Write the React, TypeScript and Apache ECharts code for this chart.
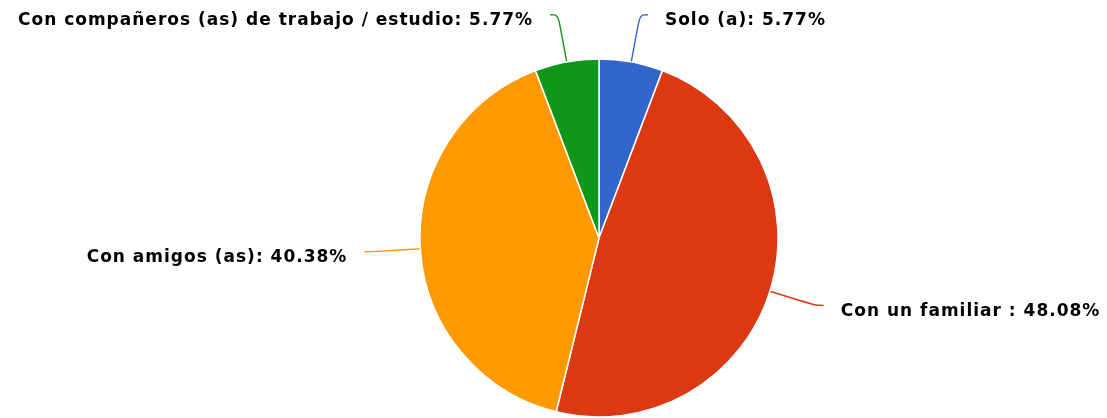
import React, { useEffect, useRef } from "react";
import * as echarts from "echarts";

const categories = [
  "Solo (a)",
  "Con un familiar ",
  "Con amigos (as)",
  "Con compañeros (as) de trabajo / estudio",
];
const values = [3, 25, 21, 3];
const colors = ["#3366cc", "#dc3912", "#ff9900", "#109618"];

export default function App() {
  const ref = useRef<HTMLDivElement>(null);
  useEffect(() => {
    if (!ref.current) return;
    const chart = echarts.init(ref.current, undefined, { renderer: "svg" });
    chart.setOption({
      animation: false,
      color: colors,
      series: [
        {
          type: "pie",
          center: [599, 238],
          radius: 179,
          startAngle: 90,
          clockwise: true,
          data: categories.map((name, i) => ({ name, value: values[i] })),
          itemStyle: { borderColor: "#ffffff", borderWidth: 1.5 },
          label: {
            show: true,
            formatter: (p: any) => `${p.name}: ${p.percent.toFixed(2)}%`,
            fontFamily: "DejaVu Sans",
            fontWeight: "bold",
            fontSize: 17,
            color: "#000000",
            distanceToLabelLine: 17,
          },
          labelLayout: { dy: 4 },
          percentPrecision: 2,
          labelLine: {
            show: true,
            length: 48,
            length2: 8,
            smooth: 0.4,
            lineStyle: { width: 1.4 },
          },
          avoidLabelOverlap: false,
        },
      ],
    });
    return () => chart.dispose();
  }, []);
  return (
    <>
      <style>{"#chart text{letter-spacing:1px}"}</style>
      <div
        id="chart"
        ref={ref}
        style={{ position: "fixed", left: 0, top: 0, width: 1107, height: 418 }}
      />
    </>
  );
}
